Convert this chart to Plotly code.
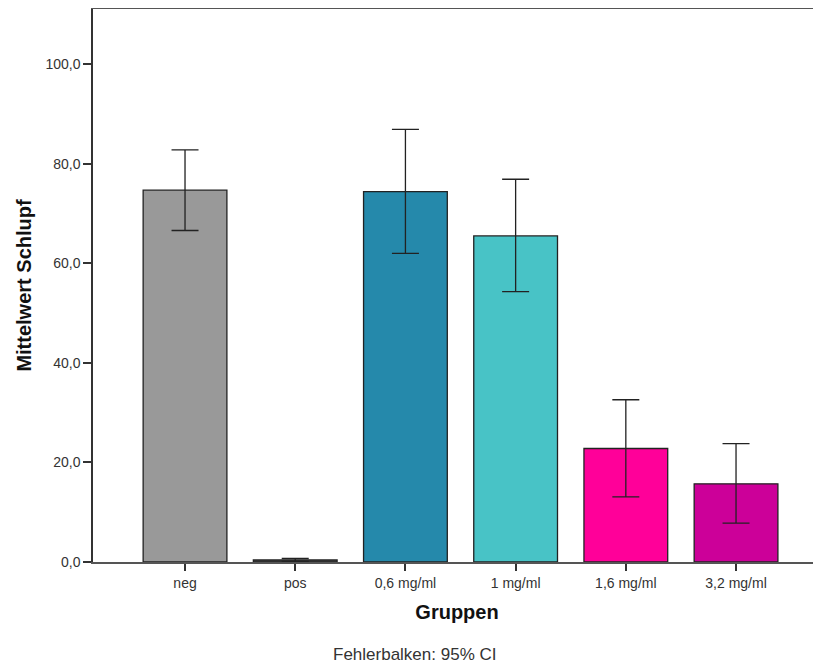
import plotly.graph_objects as go

categories = ["neg", "pos", "0,6 mg/ml", "1 mg/ml", "1,6 mg/ml", "3,2 mg/ml"]
means = [74.7, 0.4, 74.4, 65.5, 22.8, 15.7]
ci_upper = [82.8, 0.7, 86.9, 76.9, 32.6, 23.8]
ci_lower = [66.6, 0.1, 62.0, 54.3, 13.1, 7.8]
colors = ["#999999", "#555555", "#2589AB", "#48C3C6", "#FF0099", "#CC0099"]
ytick_vals = [0, 20, 40, 60, 80, 100]
ytick_text = ["0,0", "20,0", "40,0", "60,0", "80,0", "100,0"]

err_plus = [u - m for u, m in zip(ci_upper, means)]
err_minus = [m - l for m, l in zip(means, ci_lower)]

fig = go.Figure(go.Bar(
    x=list(range(len(categories))),
    y=means,
    width=0.76,
    marker=dict(color=colors, line=dict(color="#222222", width=1.3)),
    error_y=dict(type="data", array=err_plus, arrayminus=err_minus,
                 color="#222222", thickness=1.3, width=13.5, visible=True),
))

# page has an 8px body margin, so the figure is sized 8px smaller
fig.update_layout(
    width=813, height=657,
    margin=dict(l=85, r=0, t=1, b=103),
    plot_bgcolor="white", paper_bgcolor="white",
    font=dict(family="Liberation Sans, Arial, sans-serif", color="#333333", size=14),
    showlegend=False,
    xaxis=dict(
        range=[-0.835, 5.771],
        tickmode="array", tickvals=list(range(len(categories))), ticktext=categories,
        ticks="outside", ticklen=7, tickcolor="#333333", tickwidth=1.5,
        showline=True, linecolor="#555555", linewidth=1.5, mirror=True,
        showgrid=False, zeroline=False,
        tickfont=dict(size=14, color="#333333"),
        title=dict(text="<b>Gruppen</b>", font=dict(size=20, color="#111111"), standoff=15),
    ),
    yaxis=dict(
        range=[0, 111.1],
        tickmode="array", tickvals=ytick_vals, ticktext=ytick_text,
        ticks="outside", ticklen=8, tickcolor="#333333", tickwidth=1.5,
        showline=True, linecolor="#333333", linewidth=1.5, mirror=False,
        showgrid=False, zeroline=False,
        tickfont=dict(size=14, color="#333333"),
        title=dict(text="<b>Mittelwert Schlupf</b>", font=dict(size=20, color="#111111"), standoff=8),
    ),
    annotations=[dict(
        text="Fehlerbalken: 95% CI", xref="paper", yref="paper",
        x=0.442, y=-0.168, xanchor="center", yanchor="middle",
        showarrow=False, font=dict(size=17, color="#333333"),
    )],
)

fig.write_html("out.html")
